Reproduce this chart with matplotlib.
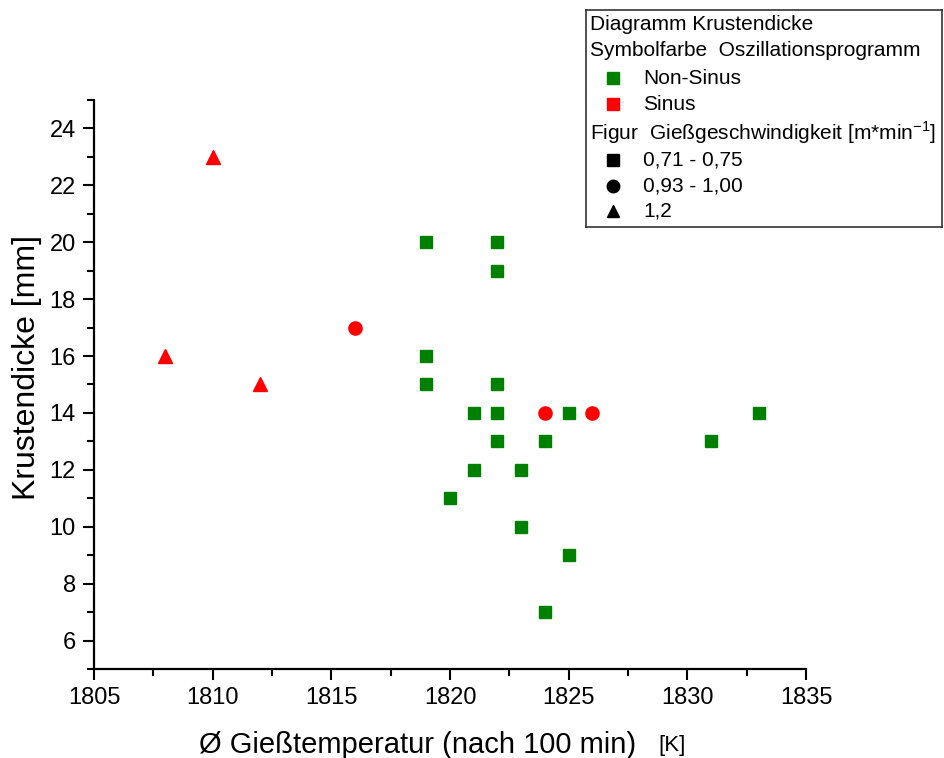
import matplotlib.pyplot as plt
from matplotlib import font_manager

# fonts: narrow one for the axes if there is one, normal one for the legend box
names = set(f.name for f in font_manager.fontManager.ttflist)
narrow = 'Liberation Sans Narrow' if 'Liberation Sans Narrow' in names else 'Liberation Sans'
plt.rcParams['font.family'] = ['Liberation Sans', 'DejaVu Sans']

# Non-Sinus, 0,71 - 0,75 m/min (squares)
sq_x = [1819, 1822, 1822, 1819, 1819, 1822, 1821, 1822, 1825, 1833,
        1822, 1824, 1831, 1821, 1823, 1820, 1823, 1825, 1824]
sq_y = [20, 20, 19, 16, 15, 15, 14, 14, 14, 14,
        13, 13, 13, 12, 12, 11, 10, 9, 7]
# Sinus, 0,93 - 1,00 m/min (circles)
ci_x = [1816, 1824, 1826]
ci_y = [17, 14, 14]
# Sinus, 1,2 m/min (triangles)
tr_x = [1810, 1808, 1812]
tr_y = [23, 16, 15]

green = '#008000'
red = '#ff0000'

fig = plt.figure(figsize=(9.44, 7.58), dpi=100, facecolor='w')
ax = fig.add_axes([94/944, 1-669/758, (806-94)/944, (669-100)/758])

ax.plot(sq_x, sq_y, 's', color=green, ms=8.5, mec=green, clip_on=False)
ax.plot(ci_x, ci_y, 'o', color=red, ms=9.5, mec=red, clip_on=False)
ax.plot(tr_x, tr_y, '^', color=red, ms=10, mec=red, clip_on=False)

ax.set_xlim(1805, 1835)
ax.set_ylim(5, 25)
ax.set_xticks(range(1805, 1836, 5))
ax.set_xticks([1807.5 + 5*i for i in range(6)], minor=True)
ax.set_yticks(range(6, 25, 2))
ax.set_yticks(range(5, 26, 2), minor=True)
ax.spines['top'].set_visible(False)
ax.spines['right'].set_visible(False)
for s in ['left', 'bottom']:
    ax.spines[s].set_linewidth(1.6)
ax.tick_params(which='major', length=8, width=1.5, direction='out', labelsize=17, pad=5)
ax.tick_params(which='minor', length=5, width=1.5, direction='out')
for lab in ax.get_xticklabels() + ax.get_yticklabels():
    lab.set_family(narrow)

fig.text(27/944, 1-368/758, 'Krustendicke [mm]', fontsize=23, rotation=90,
         va='center', ha='center')
fig.text(199/944, 1-745/758, 'Ø Gießtemperatur (nach 100 min)', fontsize=21,
         family=narrow, va='center', ha='left')
fig.text(658/944, 1-745/758, '[K]', fontsize=16, family=narrow, va='center', ha='left')

# legend box drawn by hand
lg = fig.add_axes([586/944, 1-227/758, (942-586)/944, (227-10)/758])
lg.set_xlim(586, 942)
lg.set_ylim(227, 10)
lg.set_xticks([])
lg.set_yticks([])
for s in lg.spines.values():
    s.set_color('#333333')
    s.set_linewidth(1.2)

fs = 15
lg.text(590, 25, 'Diagramm Krustendicke', fontsize=fs, va='center')
lg.text(590, 51, 'Symbolfarbe  Oszillationsprogramm', fontsize=fs, va='center')
lg.plot([613], [78], 's', color=green, ms=8)
lg.text(643, 78, 'Non-Sinus', fontsize=fs, va='center')
lg.plot([613], [104], 's', color=red, ms=8)
lg.text(643, 104, 'Sinus', fontsize=fs, va='center')
lg.text(590, 133, 'Figur  Gießgeschwindigkeit [m*min$^{\\mathregular{-1}}$]', fontsize=fs, va='center')
lg.plot([613], [160], 's', color='k', ms=8)
lg.text(643, 160, '0,71 - 0,75', fontsize=fs, va='center')
lg.plot([613], [186], 'o', color='k', ms=9)
lg.text(643, 186, '0,93 - 1,00', fontsize=fs, va='center')
lg.plot([613], [211], '^', color='k', ms=9)
lg.text(643, 211, '1,2', fontsize=fs, va='center')

fig.savefig('out.png', dpi=100)
